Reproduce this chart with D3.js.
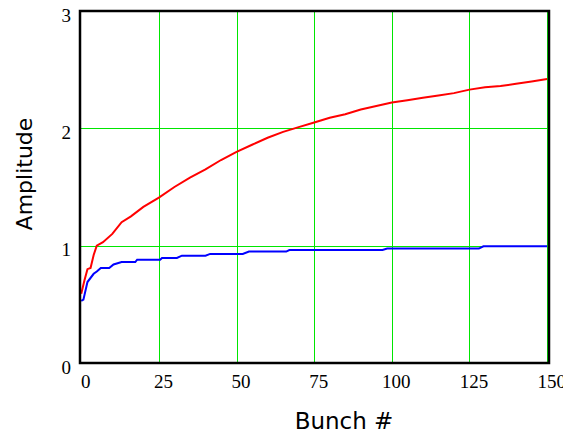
<!DOCTYPE html>
<html>
<head>
<meta charset="utf-8">
<script src="https://cdn.jsdelivr.net/npm/d3@7"></script>
<style>
  html, body { margin: 0; padding: 0; background: #fff; }
  svg { display: block; }
</style>
</head>
<body>
<div id="chart"></div>
<script>
// tick values on both axes
var xTicks = [0, 25, 50, 75, 100, 125, 150];
var yTicks = [0, 1, 2, 3];

// red curve
var redX = [0, 1, 2, 3, 4, 5, 7, 10, 13, 16, 20, 25, 30, 35, 40, 45, 50, 55, 60, 65, 70, 75,
            80, 85, 90, 95, 100, 105, 110, 115, 120, 125, 130, 135, 140, 145, 150];
var redY = [0.59, 0.70, 0.80, 0.81, 0.92, 1.00, 1.03, 1.10, 1.20, 1.25, 1.33, 1.41, 1.50, 1.58,
            1.65, 1.73, 1.80, 1.86, 1.92, 1.97, 2.01, 2.05, 2.09, 2.12, 2.16, 2.19, 2.22, 2.24,
            2.26, 2.28, 2.30, 2.33, 2.35, 2.36, 2.38, 2.40, 2.42];

// blue curve
var blueX = [0, 0.7, 2, 4, 5, 6.3, 9, 10.4, 13, 17.4, 18, 25.4, 26, 30.8, 32.4, 40, 41.5, 52,
             54, 66, 67, 97, 98.5, 128, 129.5, 150];
var blueY = [0.53, 0.54, 0.69, 0.76, 0.78, 0.81, 0.81, 0.84, 0.86, 0.86, 0.88, 0.88, 0.895,
             0.895, 0.915, 0.915, 0.93, 0.93, 0.95, 0.95, 0.963, 0.963, 0.975, 0.975, 0.995, 0.995];

var W = 563, H = 437;
var plotL = 80, plotR = 549, plotT = 11, plotB = 363;

var svg = d3.select("#chart").append("svg")
    .attr("width", W)
    .attr("height", H);

var x = d3.scaleLinear().domain([-0.4, 150.6]).range([plotL, plotR]);
var y = d3.scaleLinear().domain([0, 3]).range([plotB, plotT]);

// grid
svg.append("g")
    .attr("stroke", "#00e600")
    .attr("stroke-width", 1)
    .selectAll("line")
    .data(xTicks.slice(1))
    .join("line")
    .attr("x1", d => Math.round(x(d)) + 0.5)
    .attr("x2", d => Math.round(x(d)) + 0.5)
    .attr("y1", plotT)
    .attr("y2", plotB);
svg.append("g")
    .attr("stroke", "#00e600")
    .attr("stroke-width", 1)
    .selectAll("line")
    .data(yTicks.slice(1, 3))
    .join("line")
    .attr("x1", plotL)
    .attr("x2", plotR)
    .attr("y1", d => Math.round(y(d)) + 0.5)
    .attr("y2", d => Math.round(y(d)) + 0.5);

var line = d3.line().x(d => x(d[0])).y(d => y(d[1]));

svg.append("path")
    .datum(redX.map((v, i) => [v, redY[i]]))
    .attr("fill", "none")
    .attr("stroke", "#ff0000")
    .attr("stroke-width", 2)
    .attr("d", line);

svg.append("path")
    .datum(blueX.map((v, i) => [v, blueY[i]]))
    .attr("fill", "none")
    .attr("stroke", "#0000ff")
    .attr("stroke-width", 2)
    .attr("d", line);

// frame
svg.append("rect")
    .attr("x", plotL)
    .attr("y", plotT)
    .attr("width", plotR - plotL)
    .attr("height", plotB - plotT)
    .attr("fill", "none")
    .attr("stroke", "#000")
    .attr("stroke-width", 2.5);

// axes labels (ticks drawn with d3 axes, no tick marks)
var xAxis = svg.append("g")
    .attr("transform", `translate(4,${plotB})`)
    .call(d3.axisBottom(x).tickValues(xTicks).tickSize(0).tickFormat(d3.format("d")));
var yAxis = svg.append("g")
    .attr("transform", `translate(${plotL - 9},4)`)
    .call(d3.axisLeft(y).tickValues(yTicks).tickSize(0).tickFormat(d3.format("d")));
[xAxis, yAxis].forEach(a => {
    a.select(".domain").remove();
    a.selectAll("text")
        .attr("font-family", "'Liberation Serif', 'Times New Roman', serif")
        .attr("font-size", 19)
        .attr("fill", "#000");
});
xAxis.selectAll("text").attr("y", 0).attr("dy", 25);
yAxis.selectAll("text").attr("x", 0).attr("dy", "0.32em");

svg.append("text")
    .attr("transform", "translate(32,174) rotate(-90)")
    .attr("text-anchor", "middle")
    .attr("font-family", "'DejaVu Sans', Verdana, sans-serif")
    .attr("font-size", 22)
    .text("Amplitude");

svg.append("text")
    .attr("x", 344)
    .attr("y", 429)
    .attr("text-anchor", "middle")
    .attr("font-family", "'DejaVu Sans', Verdana, sans-serif")
    .attr("font-size", 23)
    .text("Bunch #");
</script>
</body>
</html>
